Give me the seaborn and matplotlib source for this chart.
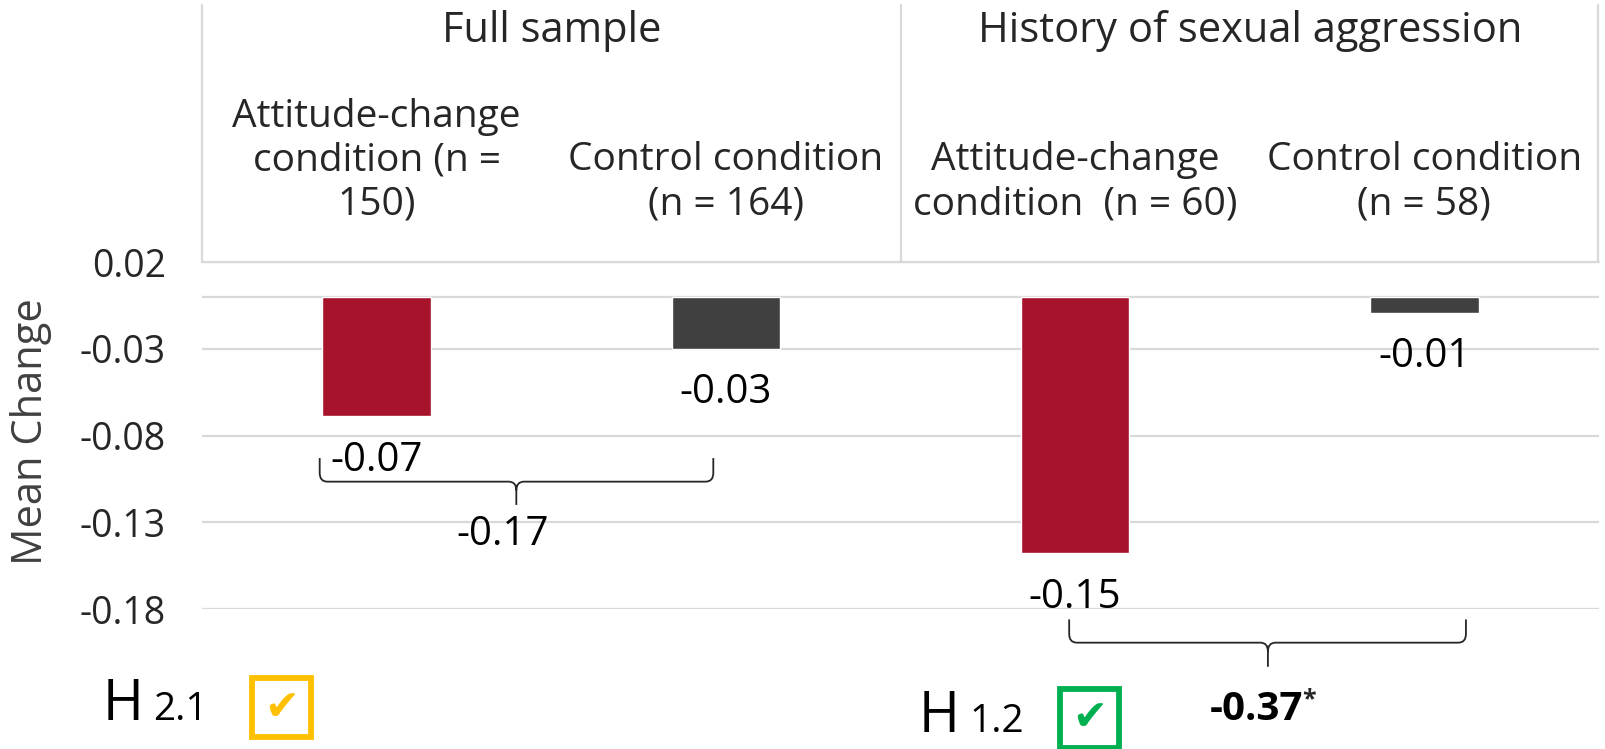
import matplotlib
matplotlib.use("Agg")
import matplotlib.pyplot as plt
import seaborn as sns
import pandas as pd
from matplotlib.patches import Rectangle, PathPatch
from matplotlib.path import Path

groups = ["Full sample", "History of sexual aggression"]
conditions = ["Attitude-change\ncondition (n =\n150)", "Control condition\n(n = 164)",
              "Attitude-change\ncondition  (n = 60)", "Control condition\n(n = 58)"]
mean_change = [-0.069, -0.030, -0.148, -0.0095]
value_labels = ["-0.07", "-0.03", "-0.15", "-0.01"]
bar_colors = ["#A6132B", "#404040", "#A6132B", "#404040"]
diff_labels = ["-0.17", "-0.37"]
hypotheses = ["2.1", "1.2"]
check_colors = ["#FFC000", "#00B050"]
yticks = [0.02, -0.03, -0.08, -0.13, -0.18]

sns.set_style("white")
plt.rcParams["font.family"] = ["Open Sans", "DejaVu Sans"]
txt = "#262626"
grid = "#D9D9D9"

W, H = 1605, 749
fig = plt.figure(figsize=(W / 100, H / 100), dpi=100)
ax = fig.add_axes([202 / W, 1 - 609 / H, 1397 / W, 347 / H])

df = pd.DataFrame({"condition": conditions, "change": mean_change})
sns.barplot(data=df, x="condition", y="change", hue="condition", palette=bar_colors,
            legend=False, width=0.31, saturation=1, ax=ax)

ax.set_xlim(-0.5, 3.5)
ax.set_ylim(-0.18, 0.02)
ax.set_yticks(yticks)
ax.set_yticklabels([f"{t:.2f}" for t in yticks])
ax.yaxis.grid(True, color=grid, lw=1.6)
ax.axhline(0, color=grid, lw=1.6, zorder=0)
ax.set_axisbelow(True)
for s in ax.spines.values():
    s.set_visible(False)
ax.xaxis.tick_top()
ax.tick_params(axis="x", length=0, pad=28, labelsize=28, labelcolor=txt)
ax.tick_params(axis="y", length=0, pad=26, labelsize=27, labelcolor=txt)
for lab in ax.get_xticklabels():
    lab.set_linespacing(1.2)
ax.set_xlabel("")
ax.set_ylabel("")
fig.text(31 / W, 1 - 432 / H, "Mean Change", rotation=90, ha="center", va="center",
         fontsize=30, color="#404040")

for cont, lab in zip(ax.containers, value_labels):
    ax.bar_label(cont, labels=[lab], padding=17, fontsize=29, color="black")

# header table
tk = dict(transform=ax.transAxes, clip_on=False, color=grid, lw=1.6)
top = (609 - 5) / 347
ax.plot([0, 1], [1, 1], **tk)
for xf in [0, 0.5, 0.9995]:
    ax.plot([xf, xf], [1, top], **tk)
for i, g in enumerate(groups):
    ax.text(0.25 + 0.5 * i, (609 - 31) / 347, g, transform=ax.transAxes,
            ha="center", va="center", fontsize=30, color=txt)

# comparison braces (curly)
def brace(x0, x1, xm, y0, y1, y2, dx=0.022, dy=0.005):
    M, L, C = Path.MOVETO, Path.LINETO, Path.CURVE3
    verts, codes = [], []
    for xe, s in [(x0, 1), (x1, -1)]:
        verts += [(xe, y0), (xe, y1 + dy), (xe, y1), (xe + s * dx, y1),
                  (xm - s * dx, y1), (xm, y1), (xm, y1 - dy)]
        codes += [M, L, C, C, L, C, C]
    verts += [(xm, y1 - dy), (xm, y2)]
    codes += [M, L]
    ax.add_patch(PathPatch(Path(verts, codes), fill=False, ec=txt, lw=1.3, clip_on=False))

brace(-0.163, 0.964, 0.40, -0.093, -0.1066, -0.12)
ax.text(0.36, -0.137, diff_labels[0], ha="center", va="center", fontsize=29, color="black")
brace(1.983, 3.119, 2.552, -0.186, -0.1994, -0.2133)
t = ax.text(2.518, -0.238, diff_labels[1], ha="center", va="center", fontsize=29,
            fontweight="bold", color="black")
ax.annotate("*", xy=(1, 1), xycoords=t, xytext=(0, 2), textcoords="offset points",
            ha="left", va="top", fontsize=18, fontweight="bold")

# hypothesis marks
h_pos = [(103, 706, 252, 678), (919, 718, 1060, 689)]
for (hx, hy, bx, by), hyp, c in zip(h_pos, hypotheses, check_colors):
    fig.text(hx / W, 1 - hy / H, "H", ha="left", va="center", fontsize=40, color="black")
    fig.text((hx + 50) / W, 1 - (hy + 4) / H, hyp, ha="left", va="center", fontsize=28, color="black")
    fig.patches.append(Rectangle((bx / W, 1 - (by + 59) / H), 59 / W, 59 / H, fill=False,
                                 ec=c, lw=4.2, transform=fig.transFigure, figure=fig))
    fig.text((bx + 29.5) / W, 1 - (by + 29.5) / H, "\u2714", ha="center", va="center",
             fontsize=30, color=c, family=["DejaVu Sans"])

fig.savefig("out.png", dpi=100)
